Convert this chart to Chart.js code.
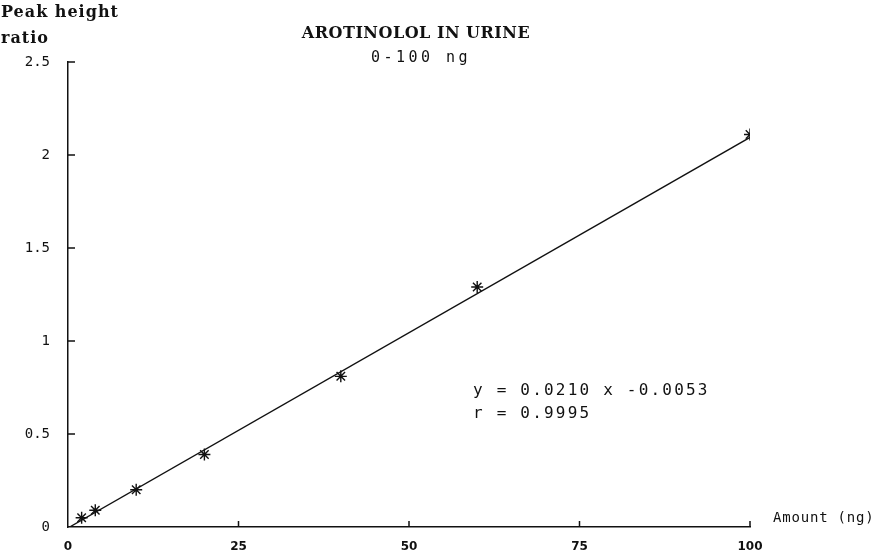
<!DOCTYPE html>
<html>
<head>
<meta charset="utf-8">
<script src="https://cdn.jsdelivr.net/npm/chart.js@4.4.1/dist/chart.umd.min.js"></script>
<style>
  html, body { margin: 0; padding: 0; background: #fff; }
  #wrap { width: 881px; height: 557px; }
</style>
</head>
<body>
<div id="wrap"><canvas id="calib" width="881" height="557"></canvas></div>
<script>
// measured calibration points (amount in ng, peak height ratio)
const amounts = [2, 4, 10, 20, 40, 60, 100];
const ratios = [0.05, 0.09, 0.2, 0.39, 0.81, 1.29, 2.11];

// fitted regression line y = 0.0210 x - 0.0053
const slope = 0.021;
const intercept = -0.0053;
const fitRange = [0, 100];

const xTicks = [0, 25, 50, 75, 100];
const yTicks = [0, 0.5, 1, 1.5, 2, 2.5];

const points = amounts.map((a, i) => ({ x: a, y: ratios[i] }));
const fitLine = fitRange.map((x) => ({ x: x, y: slope * x + intercept }));

// text labels + inward tick marks
const decor = {
  id: "decor",
  afterDraw(chart) {
    const ctx = chart.ctx;
    const xs = chart.scales.x;
    const ys = chart.scales.y;
    const area = chart.chartArea;

    ctx.save();
    ctx.strokeStyle = "#111";
    ctx.lineWidth = 1.5;
    ctx.beginPath();
    yTicks.forEach((v) => {
      if (v === 0) return;
      const py = ys.getPixelForValue(v);
      ctx.moveTo(area.left, py);
      ctx.lineTo(area.left + 7, py);
    });
    xTicks.forEach((v) => {
      if (v === 0) return;
      const px = xs.getPixelForValue(v);
      ctx.moveTo(px, area.bottom);
      ctx.lineTo(px, area.bottom - 6);
    });
    ctx.stroke();

    ctx.fillStyle = "#111";
    ctx.textBaseline = "alphabetic";

    ctx.font = "bold 16px 'DejaVu Serif'";
    ctx.textAlign = "left";
    ctx.letterSpacing = "1px";
    ctx.fillText("Peak height", 1, 17);
    ctx.fillText("ratio", 1, 43);

    ctx.letterSpacing = "0.5px";
    ctx.font = "bold 16px 'DejaVu Serif'";
    ctx.textAlign = "center";
    ctx.fillText("AROTINOLOL IN URINE", 416, 38);

    ctx.letterSpacing = "3.5px";
    ctx.font = "15px 'DejaVu Sans Mono'";
    ctx.fillText("0-100 ng", 421, 62);

    ctx.textAlign = "left";
    ctx.letterSpacing = "2.2px";
    ctx.font = "16px 'DejaVu Sans Mono'";
    ctx.fillText("y = 0.0210 x -0.0053", 473, 395);
    ctx.fillText("r = 0.9995", 473, 418);

    ctx.letterSpacing = "0.8px";
    ctx.font = "14px 'DejaVu Sans Mono'";
    ctx.fillText("Amount (ng)", 773, 522);
    ctx.restore();
  }
};

new Chart(document.getElementById("calib"), {
  type: "scatter",
  data: {
    datasets: [
      {
        label: "samples",
        data: points,
        pointStyle: "star",
        pointRadius: 6,
        pointHoverRadius: 6,
        borderColor: "#111",
        backgroundColor: "#111",
        borderWidth: 1.4
      },
      {
        label: "fit",
        type: "line",
        data: fitLine,
        borderColor: "#111",
        borderWidth: 1.3,
        pointRadius: 0,
        fill: false
      }
    ]
  },
  options: {
    responsive: false,
    animation: false,
    layout: { padding: { left: 0, top: 62, right: 131, bottom: 0 } },
    plugins: { legend: { display: false }, tooltip: { enabled: false } },
    scales: {
      x: {
        type: "linear",
        min: 0,
        max: 100,
        afterFit: (s) => { s.height = 30; },
        afterBuildTicks: (s) => { s.ticks = xTicks.map((v) => ({ value: v })); },
        grid: { display: false, drawTicks: false },
        border: { display: true, color: "#111", width: 1.5 },
        ticks: {
          color: "#111",
          padding: 13,
          font: { family: "'DejaVu Sans'", size: 12, weight: "bold" }
        }
      },
      y: {
        min: 0,
        max: 2.5,
        afterFit: (s) => { s.width = 68; },
        afterBuildTicks: (s) => { s.ticks = yTicks.map((v) => ({ value: v })); },
        grid: { display: false, drawTicks: false },
        border: { display: true, color: "#111", width: 1.5 },
        ticks: {
          color: "#111",
          padding: 18,
          font: { family: "'DejaVu Sans Mono'", size: 14 },
          callback: (v) => String(v)
        }
      }
    }
  },
  plugins: [decor]
});
</script>
</body>
</html>
